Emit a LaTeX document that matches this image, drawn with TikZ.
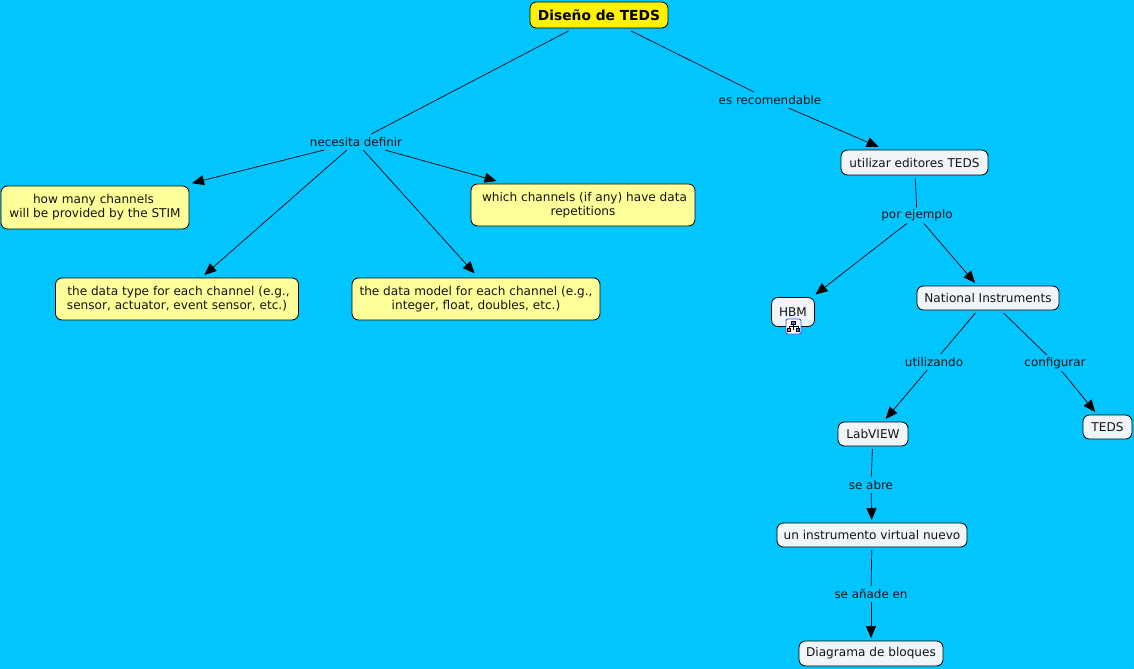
\documentclass[tikz,border=0pt]{standalone}
\usepackage{fontspec}
\setmainfont{DejaVu Sans}
\usetikzlibrary{arrows.meta}
\definecolor{bgc}{RGB}{0,197,255}
\definecolor{paleyellow}{RGB}{255,255,153}
\definecolor{palegrey}{RGB}{240,245,250}
\definecolor{txt}{RGB}{20,20,20}
\tikzset{
 x=1bp,y=-1bp,
 box/.style={draw=black,line width=0.8bp,rounded corners=6.5bp,inner sep=0pt,align=center,text=txt,font=\fontsize{12.1bp}{14bp}\selectfont,outer sep=3bp},
 ybox/.style={box,fill=paleyellow},
 wbox/.style={box,fill=palegrey},
 rootbox/.style={box,fill=yellow,font=\fontsize{13.8bp}{14bp}\selectfont\bfseries,text=black},
 lab/.style={inner sep=0pt,outer sep=0pt,text=txt,font=\fontsize{11.9bp}{14bp}\selectfont,minimum height=16bp,inner xsep=0pt},
 conn/.style={line width=0.7bp,black},
 arr/.style={conn,-{Triangle[length=12bp,width=10bp]}},
}
\begin{document}
\begin{tikzpicture}
\useasboundingbox[fill=bgc] (0,0) rectangle (1134,669);
\node[rootbox,minimum width=138bp,minimum height=26bp] (root) at (599,15) {Diseño de TEDS};
\node[lab] (nec) at (356,142) {necesita definir};
\node[lab] (rec) at (770,100) {es recomendable};
\node[ybox,minimum width=188bp,minimum height=43bp] (how) at (95,207.5) {how many channels\hspace*{3bp}\\will be provided by the STIM};
\node[ybox,minimum width=224bp,minimum height=42bp] (which) at (583,205) {\hspace*{3bp}which channels (if any) have data\\repetitions};
\node[ybox,minimum width=243bp,minimum height=42bp] (type) at (177,299) {\hspace*{3bp}the data type for each channel (e.g.,\\sensor, actuator, event sensor, etc.)};
\node[ybox,minimum width=248bp,minimum height=42bp] (model) at (476,299) {the data model for each channel (e.g.,\\integer, float, doubles, etc.)};
\node[wbox,minimum width=147bp,minimum height=25bp] (edit) at (914.5,162.5) {utilizar editores TEDS};
\node[lab] (ej) at (917,215.5) {por ejemplo};
\node[wbox,minimum width=43bp,minimum height=29bp] (hbm) at (793,312) {HBM};
\node[wbox,minimum width=142bp,minimum height=24bp] (ni) at (988,298) {National Instruments};
\node[lab] (uti) at (934,362) {utilizando};
\node[lab] (conf) at (1055,363) {configurar};
\node[wbox,minimum width=70bp,minimum height=24bp] (lv) at (873,434) {LabVIEW};
\node[wbox,minimum width=49bp,minimum height=24bp] (teds) at (1107.5,427) {TEDS};
\node[lab] (abre) at (871,485) {se abre};
\node[wbox,minimum width=190bp,minimum height=24bp] (inst) at (872,535) {un instrumento virtual nuevo};
\node[lab] (ana) at (871,594) {se añade en};
\node[wbox,minimum width=144bp,minimum height=25bp] (diag) at (871,653.5) {Diagrama de bloques};
% connectors
\draw[conn] (root) -- (nec);
\draw[arr] (nec) -- (how);
\draw[arr] (nec) -- (which);
\draw[arr] (nec) -- (type);
\draw[arr,shorten >=2bp] (nec) -- (model.north);
\draw[conn] (root) -- (rec);
\draw[arr] (rec) -- (edit);
\draw[conn] (edit) -- (ej);
\draw[arr] (ej) -- (hbm);
\draw[arr] (ej) -- (ni);
\draw[conn] (ni) -- (uti);
\draw[conn] (ni) -- (conf);
\draw[arr] (uti) -- (lv);
\draw[arr] (conf) -- (teds);
\draw[conn] (lv) -- (abre);
\draw[arr] (abre) -- (inst);
\draw[conn] (inst) -- (ana);
\draw[arr] (ana) -- (diag);
% HBM icon
\begin{scope}[shift={(793.5,326.5)}]
\draw[draw=blue!70!white,fill=white,line width=0.9bp,rounded corners=2bp] (-7.5,-7.5) rectangle (7.5,7.5);
\draw[line width=0.7bp,black] (0,-3) -- (0,0) (-4.5,2) -- (-4.5,0) -- (4.5,0) -- (4.5,2) (0,0) -- (0,3);
\draw[line width=0.7bp,black,fill=blue!60!white] (-2,-5.5) rectangle (2,-2.5);
\draw[line width=0.7bp,black,fill=red!60!white] (-6,2) rectangle (-3,5);
\draw[line width=0.7bp,black,fill=blue!60!white] (3,2) rectangle (6,5);
\end{scope}
\end{tikzpicture}
\end{document}
